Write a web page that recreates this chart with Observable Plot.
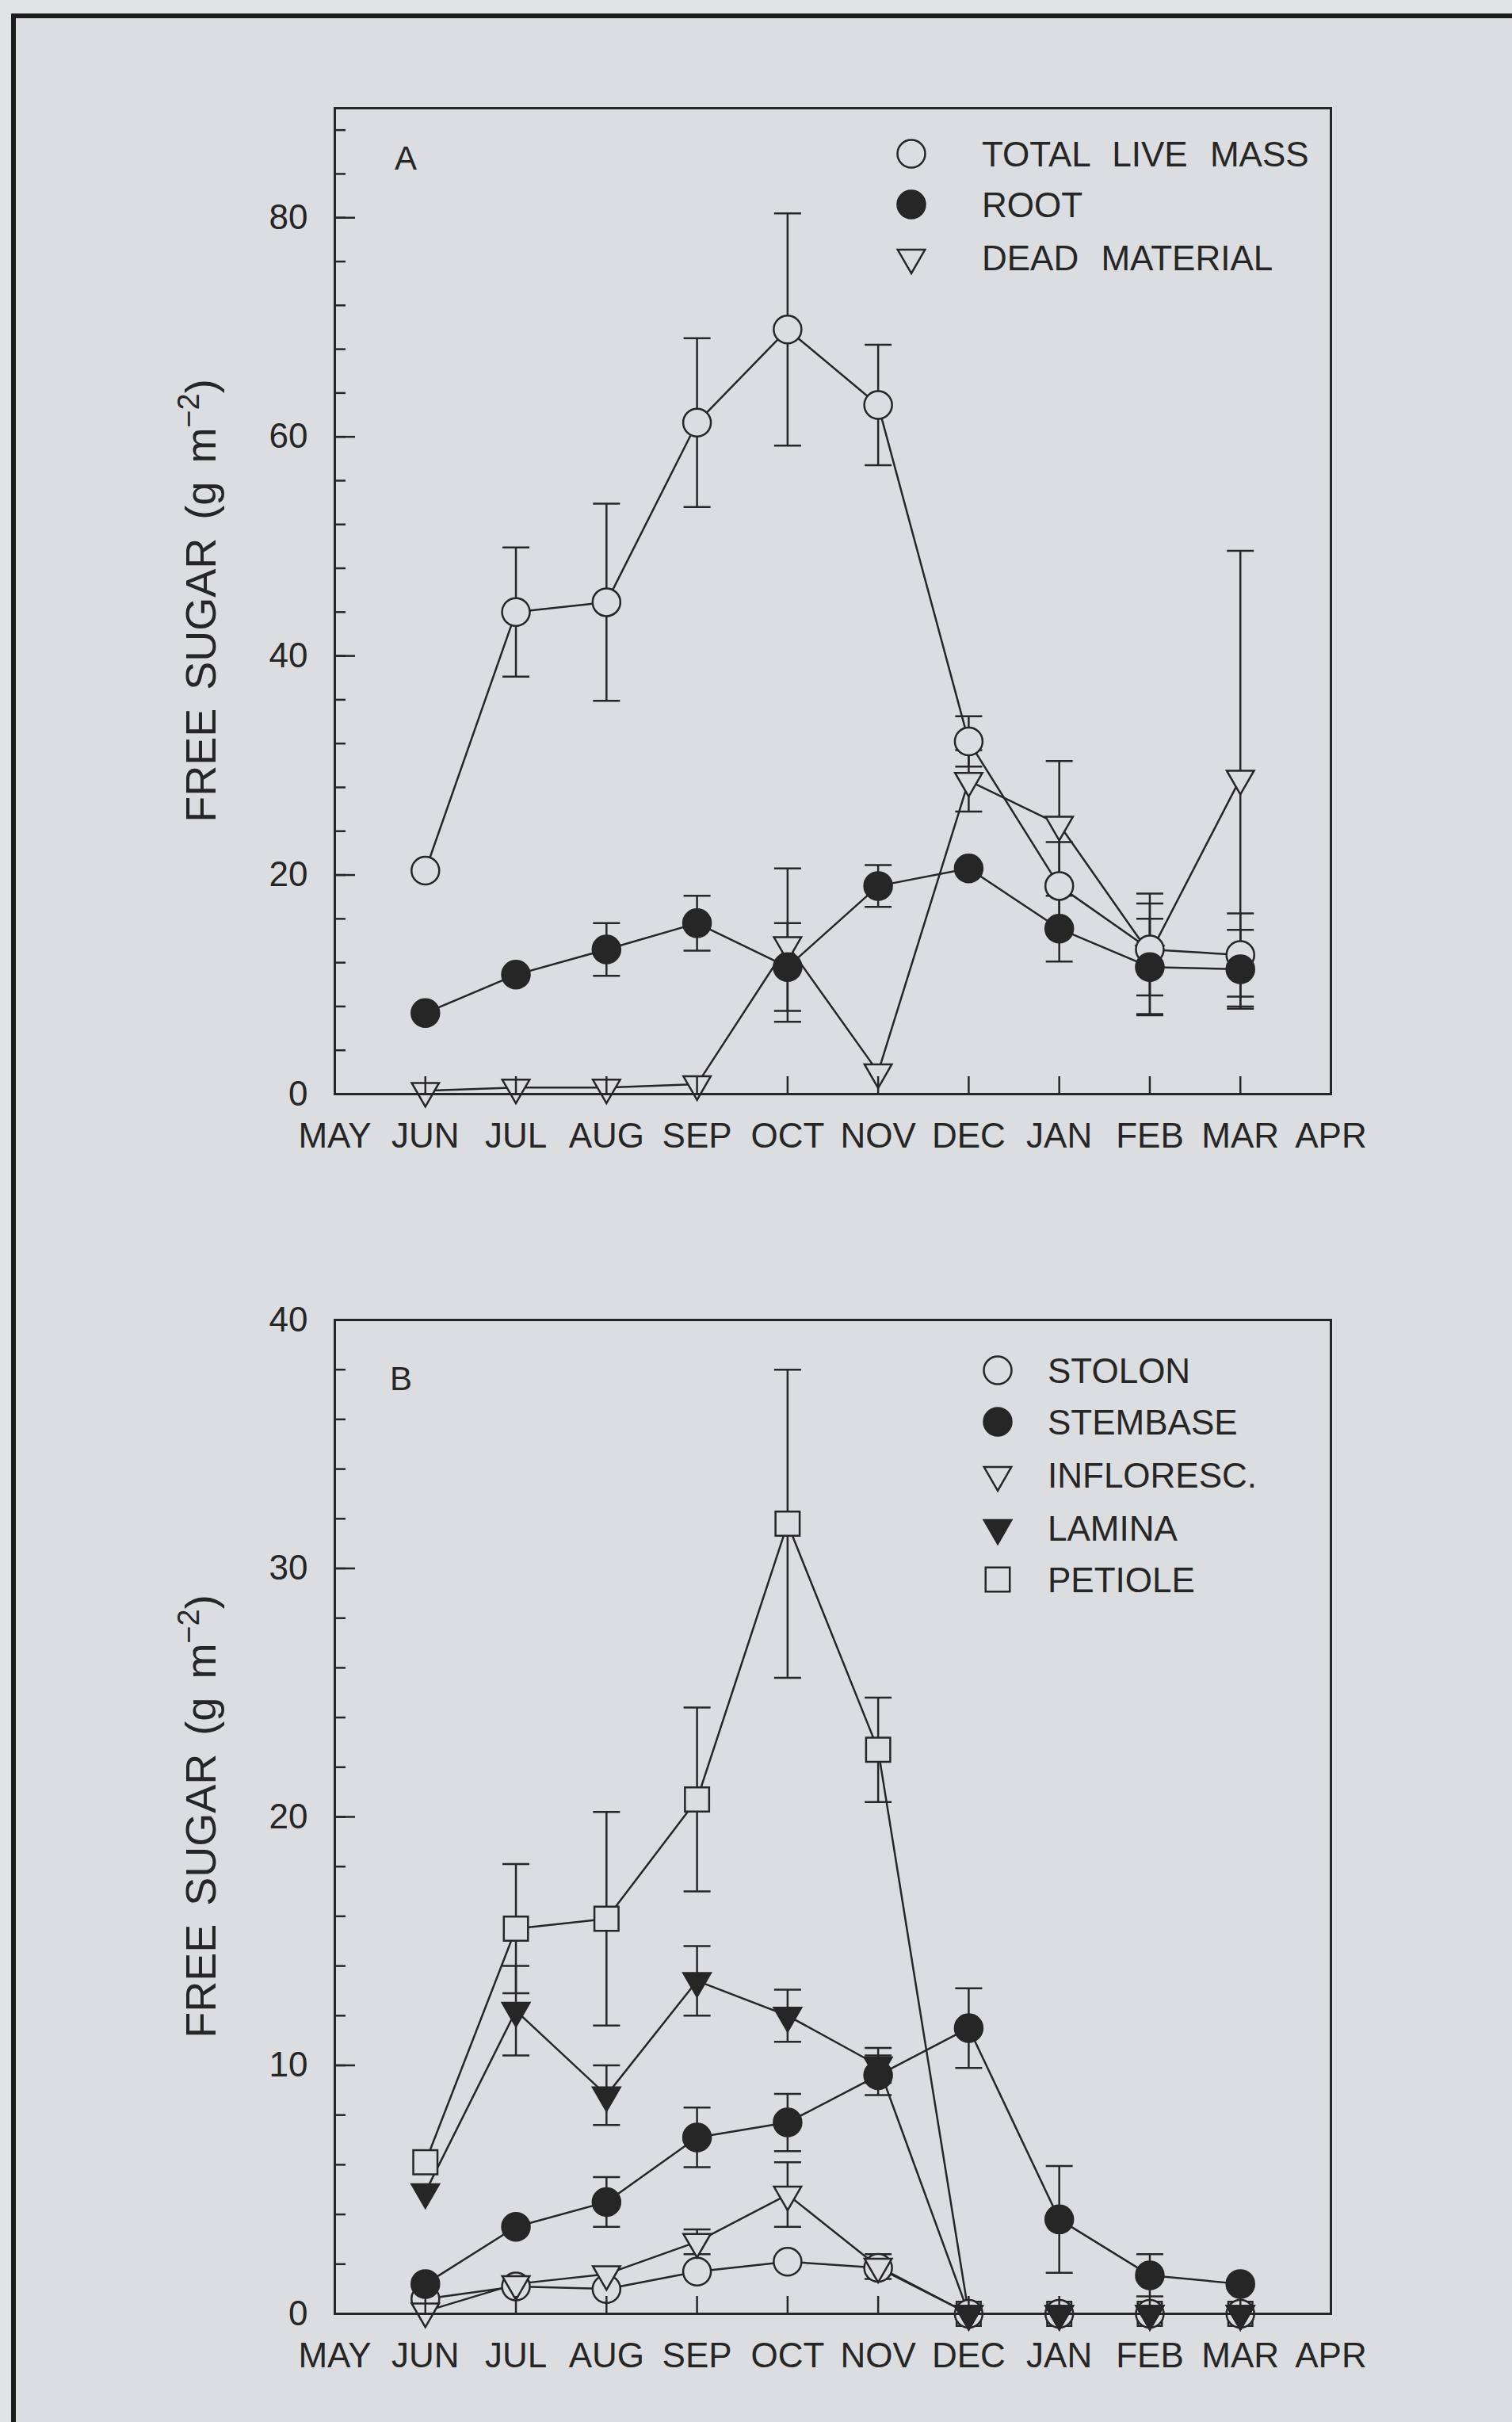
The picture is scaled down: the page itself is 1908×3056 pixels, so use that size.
<!DOCTYPE html>
<html>
<head>
<meta charset="utf-8">
<script src="https://cdn.jsdelivr.net/npm/d3@7"></script>
<script src="https://cdn.jsdelivr.net/npm/@observablehq/plot@0.6"></script>
<style>
html, body { margin: 0; padding: 0; background: #e2e3e5; }
body { width: 1908px; height: 3056px; overflow: hidden; position: relative; }
#outer { position: absolute; left: 14px; top: 17px; width: 2100px; height: 3200px;
  border-left: 6px solid #1c1c1c; border-top: 6px solid #1c1c1c; background: #dcdde0; }
.panel { position: absolute; left: 0; }
.panel svg { background: transparent; max-width: none; }
</style>
</head>
<body>
<div id="outer"></div>
<div id="panelA" class="panel" style="top:0px"></div>
<div id="panelB" class="panel" style="top:1500px"></div>
<script>
// ---------- data ----------
const monthLabels = ["MAY", "JUN", "JUL", "AUG", "SEP", "OCT", "NOV", "DEC", "JAN", "FEB", "MAR", "APR"];
const sampleMonths = ["JUN", "JUL", "AUG", "SEP", "OCT", "NOV", "DEC", "JAN", "FEB", "MAR"];

// Panel A
const legendA = ["TOTAL LIVE MASS", "ROOT", "DEAD MATERIAL"];
const totalLive    = [20.4, 44.0, 44.9, 61.3, 69.8, 62.9, 32.2, 19.0, 13.2, 12.7];
const totalLiveErr = [null, 5.9, 9.0, 7.7, 10.6, 5.5, 2.3, 4.0, 4.2, 3.8];
const root         = [7.4, 10.9, 13.2, 15.6, 11.6, 19.0, 20.6, 15.1, 11.6, 11.4];
const rootErr      = [null, null, 2.4, 2.5, 4.0, 1.9, null, 3.0, 4.4, 3.6];
const dead         = [0.3, 0.6, 0.6, 0.9, 13.6, 2.0, 28.6, 24.6, 12.8, 28.8];
const deadErr      = [null, null, null, null, 7.0, null, 2.8, 5.8, 5.5, 20.8];
const yTicksA = [0, 20, 40, 60, 80];

// Panel B
const legendB = ["STOLON", "STEMBASE", "INFLORESC.", "LAMINA", "PETIOLE"];
const stolon        = [0.6, 1.1, 1.0, 1.7, 2.1, 1.85, 0, 0, 0, 0];
const stembase      = [1.2, 3.5, 4.5, 7.1, 7.7, 9.6, 11.5, 3.8, 1.55, 1.2];
const stembaseErr   = [null, null, 1.0, 1.2, 1.15, 0.8, 1.6, 2.15, 0.85, null];
const infloresc     = [0.1, 1.2, 1.6, 2.9, 4.8, 1.9, 0, 0, 0, 0];
const inflorescErr  = [null, null, null, 0.5, 1.3, 0.5, null, null, null, null];
const lamina        = [4.9, 12.2, 8.8, 13.4, 12.0, 10.0, 0, 0, 0, 0];
const laminaErr     = [null, 1.8, 1.2, 1.4, 1.05, 0.7, null, null, null, null];
const petiole       = [6.1, 15.5, 15.9, 20.7, 31.8, 22.7, 0, 0, 0, 0];
const petioleErr    = [null, 2.6, 4.3, 3.7, 6.2, 2.1, null, null, null, null];
const yTicksB = [0, 10, 20, 30, 40];

// ---------- styling ----------
const INK = "#262626";
const BG = "#dcdde0";
const FONT = '"Liberation Sans", Arial, "DejaVu Sans", sans-serif';
const SW = 2.5;

const markerStyles = {
  circleOpen:   {symbol: "circle", r: 17.5, fill: BG, rotate: 0},
  circleFilled: {symbol: "circle", r: 17.5, fill: INK, rotate: 0},
  triOpen:      {symbol: "triangle", r: 12.8, fill: BG, rotate: 180},
  triFilled:    {symbol: "triangle", r: 12.8, fill: INK, rotate: 180},
  square:       {symbol: "square", r: 17.2, fill: BG, rotate: 0}
};
const d3Symbols = {circle: d3.symbolCircle, triangle: d3.symbolTriangle, square: d3.symbolSquare};
const capSymbol = {draw(ctx) { ctx.moveTo(-17, 0); ctx.lineTo(17, 0); }};

function rows(values, errs) {
  return sampleMonths.map((m, i) => ({x: monthLabels.indexOf(m), y: values[i], e: errs ? errs[i] : null}));
}

function buildPanel(cfg) {
  const marks = [];
  for (const s of cfg.series) {
    marks.push(Plot.line(s.data, {x: "x", y: "y", stroke: INK, strokeWidth: SW}));
  }
  for (const s of cfg.series) {
    const eb = s.data.filter(d => d.e != null);
    marks.push(Plot.ruleX(eb, {x: "x", y1: d => d.y - d.e, y2: d => d.y + d.e, stroke: INK, strokeWidth: SW}));
    marks.push(Plot.dot(eb, {x: "x", y: d => d.y + d.e, symbol: capSymbol, fill: "none", stroke: INK, strokeWidth: SW}));
    marks.push(Plot.dot(eb, {x: "x", y: d => d.y - d.e, symbol: capSymbol, fill: "none", stroke: INK, strokeWidth: SW}));
  }
  for (const s of cfg.series) {
    const st = markerStyles[s.style];
    marks.push(Plot.dot(s.data, {x: "x", y: "y", symbol: st.symbol, r: st.r, rotate: st.rotate,
      fill: st.fill, stroke: INK, strokeWidth: SW}));
  }
  marks.push(Plot.frame({stroke: INK, strokeWidth: 3}));
  // x labels and inward ticks
  marks.push(Plot.axisX(d3.range(0, 12), {anchor: "bottom", tickSize: 0, tickPadding: 36,
    tickFormat: d => monthLabels[d], fontSize: 44, fill: INK, label: null}));
  marks.push(Plot.axisX(d3.range(1, 11), {anchor: "bottom", tickSize: -22, fill: "none",
    stroke: INK, strokeWidth: SW, label: null}));
  // y labels, major and minor inward ticks
  marks.push(Plot.axisY(cfg.yTicks, {anchor: "left", tickSize: 0, tickPadding: 34,
    fontSize: 44, fill: INK, label: null}));
  marks.push(Plot.axisY(cfg.yTicks, {anchor: "left", tickSize: -26, fill: "none",
    stroke: INK, strokeWidth: SW, label: null}));
  marks.push(Plot.axisY(d3.range(cfg.yDomain[0], cfg.yDomain[1], cfg.minorStep), {anchor: "left",
    tickSize: -14, fill: "none", stroke: INK, strokeWidth: SW, label: null}));

  const svg = Plot.plot({
    width: 1908,
    height: cfg.height,
    marginLeft: 422,
    marginRight: 229,
    marginTop: cfg.marginTop,
    marginBottom: cfg.marginBottom,
    x: {domain: [0, 11]},
    y: {domain: cfg.yDomain},
    style: {fontFamily: FONT, fontSize: "44px", color: INK, background: "transparent", overflow: "visible"},
    marks
  });

  const root = d3.select(svg);
  // y title with superscript
  const t = root.append("text")
    .attr("transform", `translate(272,${cfg.titleY}) rotate(-90)`)
    .attr("text-anchor", "middle")
    .attr("font-family", FONT).attr("font-size", 54).attr("fill", INK)
    .style("word-spacing", "8px");
  t.append("tspan").text("FREE SUGAR (g m");
  t.append("tspan").attr("dy", -21).attr("font-size", 38).text("\u22122");
  t.append("tspan").attr("dy", 21).text(")");

  // panel letter
  root.append("text").attr("x", cfg.letterX).attr("y", cfg.letterY)
    .attr("text-anchor", "start")
    .attr("font-family", FONT).attr("font-size", 42).attr("fill", INK).text(cfg.letter);

  // legend
  const g = root.append("g").attr("text-anchor", "start");
  cfg.series.forEach((s) => {
    const ly = cfg.legendY[cfg.legendOrder.indexOf(s.name)];
    const st = markerStyles[s.style];
    const sym = d3.symbol(d3Symbols[st.symbol], Math.PI * st.r * st.r);
    g.append("path").attr("d", sym())
      .attr("transform", `translate(${cfg.legendSymX},${ly}) rotate(${st.rotate})`)
      .attr("fill", st.fill).attr("stroke", INK).attr("stroke-width", SW);
    g.append("text").attr("x", cfg.legendTextX).attr("y", ly).attr("dy", "0.36em")
      .attr("text-anchor", "start")
      .attr("font-family", FONT).attr("font-size", 44).attr("fill", INK)
      .style("word-spacing", "16px").text(s.name);
  });
  return svg;
}

const svgA = buildPanel({
  series: [
    {name: legendA[2], data: rows(dead, deadErr), style: "triOpen"},
    {name: legendA[0], data: rows(totalLive, totalLiveErr), style: "circleOpen"},
    {name: legendA[1], data: rows(root, rootErr), style: "circleFilled"}
  ],
  legendOrder: legendA,
  legendY: [194, 258, 325],
  legendSymX: 1150, legendTextX: 1239,
  yDomain: [0, 90], yTicks: yTicksA, minorStep: 4,
  height: 1500, marginTop: 136, marginBottom: 120,
  titleY: 758, letter: "A", letterX: 498, letterY: 214
});
document.getElementById("panelA").appendChild(svgA);

const svgB = buildPanel({
  series: [
    {name: legendB[4], data: rows(petiole, petioleErr), style: "square"},
    {name: legendB[0], data: rows(stolon, null), style: "circleOpen"},
    {name: legendB[2], data: rows(infloresc, inflorescErr), style: "triOpen"},
    {name: legendB[3], data: rows(lamina, laminaErr), style: "triFilled"},
    {name: legendB[1], data: rows(stembase, stembaseErr), style: "circleFilled"}
  ],
  legendOrder: legendB,
  legendY: [229, 294, 361, 428, 493],
  legendSymX: 1259, legendTextX: 1322,
  yDomain: [0, 40], yTicks: yTicksB, minorStep: 2,
  height: 1556, marginTop: 165, marginBottom: 137,
  titleY: 792, letter: "B", letterX: 492, letterY: 254
});
document.getElementById("panelB").appendChild(svgB);
</script>
</body>
</html>
